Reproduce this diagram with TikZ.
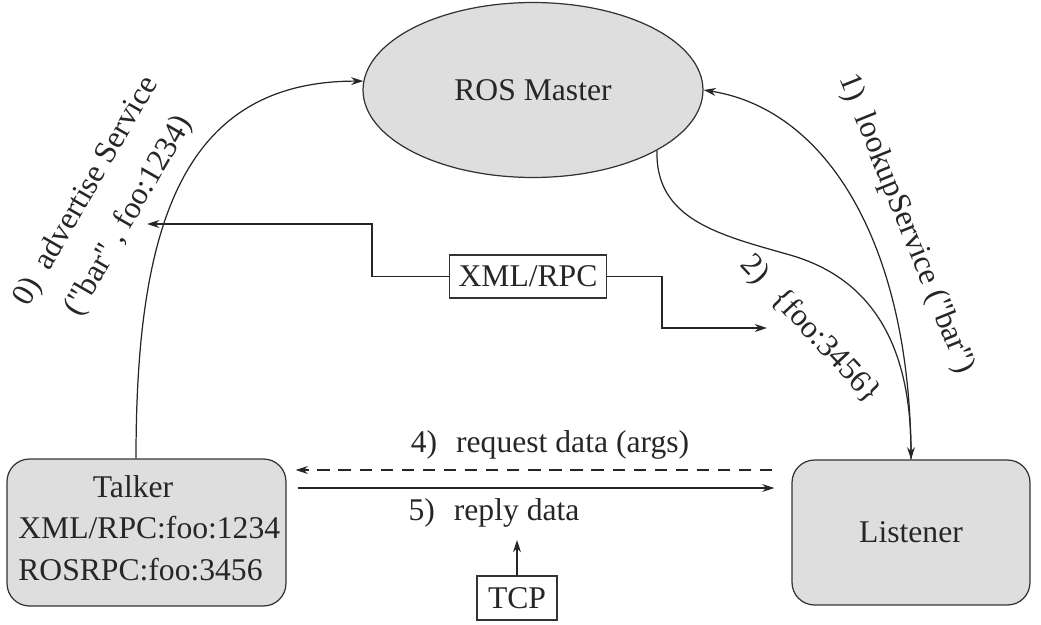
\documentclass[tikz,border=0pt]{standalone}
\usepackage{fontspec}
\setmainfont{Liberation Serif}
\usetikzlibrary{shapes.geometric,arrows.meta}

\begin{document}
\begin{tikzpicture}[
  x=0.02cm, y=-0.02cm,
  txt/.style={font=\fontsize{18}{22}\selectfont, text=black!85, inner sep=0pt},
  master/.style={txt, ellipse, draw=black!80, fill=black!13, line width=0.7pt, minimum width=6.8cm, minimum height=3.5cm},
  hostbox/.style={txt, rectangle, rounded corners=0.45cm, draw=black!80, fill=black!13, line width=0.7pt},
  tagbox/.style={txt, rectangle, draw=black!80, fill=white, line width=0.7pt, inner sep=3pt},
  link/.style={line width=0.7pt, draw=black!85},
  arr/.style={link, -{Stealth[length=7pt, width=4.5pt]}}
]
  \useasboundingbox (0,0) rectangle (1041,625);

  % --- ROS Master y nodos ---
  \node[master] (master) at (533,90) {ROS Master};
  \node[hostbox, minimum width=5.58cm, minimum height=2.94cm] (talker) at (146.5,532.5) {};
  \node[hostbox, minimum width=4.76cm, minimum height=2.9cm] (listener) at (911,532.5) {Listener};

  \node[txt] (talkername) at (133,487) {Talker};
  \node[txt, anchor=west] (talkerxml) at (18,528) {XML/RPC:foo:1234};
  \node[txt, anchor=west] (talkerros) at (18,570) {ROSRPC:foo:3456};

  % --- registro (0) ---
  \draw[arr] ([xshift=-0.21cm]talker.north) .. controls (136,230) and (180,81) .. (master.177);
  \node[txt, rotate=60, align=center] (advlbl) at (108,204)
    {0)\hspace{0.5em}advertise Service\\[6pt](\textquotedbl bar\textquotedbl\ , foo:1234)};

  % --- consulta (1) y respuesta (2) ---
  \draw[arr] (listener.north) .. controls (911,250) and (830,110) .. (master.east);
  \draw[arr] (master.-26) .. controls (655,220) and (720,235) .. (790,255)
    .. controls (860,275) and (911,330) .. (listener.north);
  \node[txt, rotate=-68] (lookuplbl) at (906,224) {1)\hspace{0.5em}lookupService (\textquotedbl bar\textquotedbl)};
  \node[txt, rotate=-47] (addrlbl) at (810,330) {2)\hspace{0.6em}\{foo:3456\}};

  % --- XML/RPC ---
  \node[tagbox, minimum width=3.14cm, minimum height=0.86cm] (xmlbox) at (528,276.5) {XML/RPC};
  \coordinate (advtip) at (147,224);
  \coordinate (addrtip) at (767,328);
  \draw[arr] (xmlbox.west) -- ++(-77,0) |- (advtip);
  \draw[arr] (xmlbox.east) -- ++(55,0) |- (addrtip);

  % --- datos (4) y (5) ---
  \draw[arr, dashed, dash pattern=on 7pt off 5pt] ([xshift=-0.38cm,yshift=1.25cm]listener.west) -- ([xshift=0.18cm,yshift=1.25cm]talker.east);
  \draw[arr] ([xshift=0.22cm,yshift=0.89cm]talker.east) -- ([xshift=-0.34cm,yshift=0.89cm]listener.west);
  \node[txt] (reqlbl) at (550,445) {4)\hspace{0.6em}request data (args)};
  \node[txt] (replbl) at (494,513) {5)\hspace{0.6em}reply data};

  % --- TCP ---
  \node[tagbox, minimum width=1.6cm, minimum height=0.88cm] (tcpbox) at (517,598) {TCP};
  \coordinate (tcptip) at (517,540);
  \draw[arr] (tcpbox.north) -- (tcptip);
\end{tikzpicture}
\end{document}
